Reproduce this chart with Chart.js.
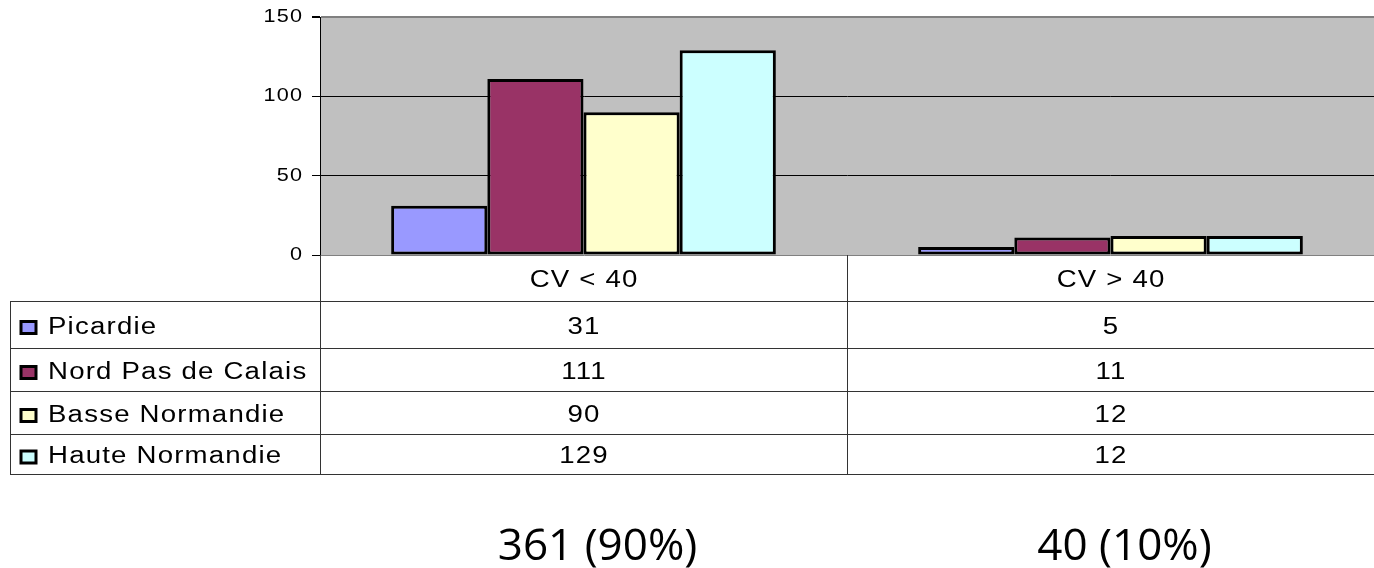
<!DOCTYPE html>
<html>
<head>
<meta charset="utf-8">
<title>CV par région</title>
<script src="https://cdn.jsdelivr.net/npm/chart.js@4/dist/chart.umd.min.js"></script>
<style>
  html, body { margin: 0; padding: 0; background: #fff; }
  #chart { display: block; }
</style>
</head>
<body>
<canvas id="chart" width="1374" height="568"></canvas>
<script>
// Categories and series
const categories = ['CV < 40', 'CV > 40'];
const regions = ['Picardie', 'Nord Pas de Calais', 'Basse Normandie', 'Haute Normandie'];
const picardie = [31, 5];
const nordPasDeCalais = [111, 11];
const basseNormandie = [90, 12];
const hauteNormandie = [129, 12];
const totals = ['361 (90%)', '40 (10%)'];
const yTicks = [0, 50, 100, 150];

const seriesValues = [picardie, nordPasDeCalais, basseNormandie, hauteNormandie];
const seriesColors = ['#9999FF', '#993366', '#FFFFCC', '#CCFFFF'];

const FONT = '"Liberation Sans", Arial, sans-serif';
const STRETCH = 1.2;   // wide, slightly spaced lettering

// draws text stretched horizontally, aligned left / center / right on x
function wideText(ctx, text, x, y, align, size) {
    ctx.save();
    ctx.font = size + 'px ' + FONT;
    ctx.letterSpacing = '1px';
    ctx.textAlign = 'left';
    ctx.textBaseline = 'middle';
    const w = (ctx.measureText(text).width - 1) * STRETCH;
    let x0 = x;
    if (align === 'center') x0 = x - w / 2;
    if (align === 'right') x0 = x - w;
    ctx.translate(x0, y);
    ctx.scale(STRETCH, 1);
    ctx.fillStyle = '#000';
    ctx.fillText(text, 0, 0);
    ctx.restore();
}

// gray plot background
const plotBackground = {
    id: 'plotBackground',
    beforeDraw(chart) {
        const { ctx, chartArea } = chart;
        ctx.save();
        ctx.fillStyle = '#C0C0C0';
        ctx.fillRect(chartArea.left, chartArea.top, chartArea.right - chartArea.left, chartArea.bottom - chartArea.top);
        ctx.restore();
    }
};

// y tick labels, data table with legend keys, totals
const dataTable = {
    id: 'dataTable',
    afterDraw(chart) {
        const { ctx, chartArea } = chart;
        const x = chart.scales.x;
        const y = chart.scales.y;
        const left = 10;
        const right = chart.width;
        const rows = [chartArea.bottom, 301, 348, 391, 434, 474];
        const colEdges = [chartArea.left, (x.getPixelForValue(0) + x.getPixelForValue(1)) / 2];

        yTicks.forEach(v => {
            wideText(ctx, String(v), chartArea.left - 18, y.getPixelForValue(v), 'right', 18);
        });

        ctx.save();
        ctx.strokeStyle = '#333';
        ctx.lineWidth = 1;
        ctx.beginPath();
        for (let i = 1; i < rows.length; i++) {
            ctx.moveTo(left, rows[i] + 0.5);
            ctx.lineTo(right, rows[i] + 0.5);
        }
        ctx.moveTo(left + 0.5, rows[1]);
        ctx.lineTo(left + 0.5, rows[rows.length - 1]);
        colEdges.forEach(cx => {
            ctx.moveTo(Math.round(cx) + 0.5, rows[0]);
            ctx.lineTo(Math.round(cx) + 0.5, rows[rows.length - 1]);
        });
        ctx.stroke();
        ctx.restore();

        // header: category names
        categories.forEach((c, i) => {
            wideText(ctx, c, x.getPixelForValue(i), (rows[0] + rows[1]) / 2 + 3, 'center', 23);
        });

        // rows: legend key, region name, values
        regions.forEach((name, r) => {
            const cy = (rows[r + 1] + rows[r + 2]) / 2 + 3;
            ctx.save();
            ctx.fillStyle = seriesColors[r];
            ctx.fillRect(21, cy - 6, 15, 12);
            ctx.strokeStyle = '#000';
            ctx.lineWidth = 3;
            ctx.strokeRect(21, cy - 6, 15, 12);
            ctx.restore();

            wideText(ctx, name, 48, cy, 'left', 23);
            seriesValues[r].forEach((v, i) => {
                wideText(ctx, String(v), x.getPixelForValue(i), cy, 'center', 23);
            });
        });

        // totals below the table
        ctx.save();
        ctx.fillStyle = '#000';
        ctx.textBaseline = 'middle';
        ctx.font = '44px "Open Sans", "DejaVu Sans", sans-serif';
        ctx.textAlign = 'center';
        totals.forEach((t, i) => {
            ctx.fillText(t, x.getPixelForValue(i) + 14, 547);
        });
        ctx.restore();
    }
};

new Chart(document.getElementById('chart'), {
    type: 'bar',
    data: {
        labels: categories,
        datasets: regions.map((name, i) => ({
            label: name,
            data: seriesValues[i],
            backgroundColor: seriesColors[i],
            borderColor: '#000',
            borderWidth: 3,
            borderSkipped: false,
            categoryPercentage: 0.73,
            barPercentage: 1.0
        }))
    },
    options: {
        responsive: false,
        devicePixelRatio: 1,
        animation: false,
        layout: { padding: { left: 0, right: 0, top: 17, bottom: 568 - 255 } },
        plugins: {
            legend: { display: false },
            tooltip: { enabled: false }
        },
        scales: {
            x: {
                display: false
            },
            y: {
                min: 0,
                max: 150,
                afterBuildTicks(scale) {
                    scale.ticks = yTicks.map(v => ({ value: v }));
                },
                afterFit(scale) {
                    scale.width = 320;
                },
                grid: {
                    color: ctx => (ctx.tick && (ctx.tick.value === 150 || ctx.tick.value === 0)) ? '#808080' : '#000',
                    lineWidth: ctx => (ctx.tick && ctx.tick.value === 150) ? 2 : 1,
                    drawTicks: true,
                    tickLength: 8,
                    tickColor: '#000'
                },
                border: { color: '#000', width: 1 },
                ticks: { display: false }
            }
        }
    },
    plugins: [plotBackground, dataTable]
});
</script>
</body>
</html>
